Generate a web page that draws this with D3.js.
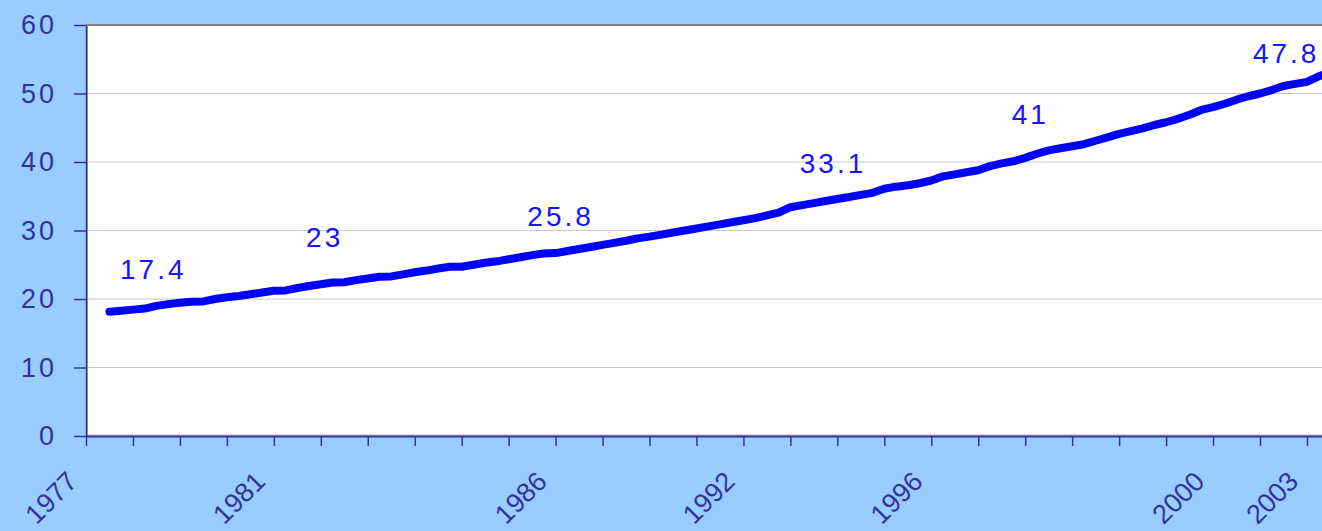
<!DOCTYPE html>
<html>
<head>
<meta charset="utf-8">
<script src="https://cdn.jsdelivr.net/npm/d3@7"></script>
<style>
  body { margin: 0; background: #99ccff; }
  svg { display: block; font-family: "Liberation Sans", Arial, sans-serif; }
</style>
</head>
<body>
<script>
const width = 1322, height = 531
const catPx = 11.74
const nCat = 108
const margin = {top: 25, left: 86, bottom: 95}

// series, one value per category (first point sits on category 2)
const firstCat = 2
const values = [
    18.15, 18.3, 18.45, 18.6, 19.0, 19.25, 19.45, 19.6, 19.65, 20.0,
    20.25, 20.45, 20.7, 20.95, 21.2, 21.25, 21.6, 21.9, 22.15, 22.4,
    22.45, 22.75, 23.0, 23.25, 23.3, 23.6, 23.9, 24.15, 24.45, 24.7,
    24.7, 25.0, 25.3, 25.5, 25.8, 26.1, 26.4, 26.65, 26.7, 27.0,
    27.3, 27.6, 27.9, 28.2, 28.5, 28.85, 29.1, 29.4, 29.7, 30.0,
    30.3, 30.6, 30.9, 31.2, 31.5, 31.8, 32.2, 32.6, 33.4, 33.7,
    34.0, 34.3, 34.6, 34.9, 35.2, 35.5, 36.1, 36.4, 36.6, 36.9,
    37.3, 37.9, 38.2, 38.5, 38.8, 39.4, 39.8, 40.1, 40.6, 41.2,
    41.7, 42.0, 42.3, 42.6, 43.1, 43.6, 44.1, 44.5, 44.9, 45.4,
    45.8, 46.3, 46.9, 47.6, 48.0, 48.5, 49.1, 49.6, 50.0, 50.5,
    51.1, 51.4, 51.7, 52.5, 53.1
]

const yTicks = [0, 10, 20, 30, 40, 50, 60]
const xTickStep = 4
const yearLabels = ["1977", "1981", "1986", "1992", "1996", "2000", "2003"]
const yearCats = [0, 16, 40, 56, 72, 96, 104]

const annoText = ["17.4", "23", "25.8", "33.1", "41", "47.8"]
const annoCat = [5.6, 20.2, 40.3, 63.5, 80.3, 102.1]
const annoVal = [22.9, 27.6, 30.7, 38.4, 45.5, 54.4]

const svg = d3.select("body").append("svg")
    .attr("width", width)
    .attr("height", height)

const x = d3.scaleLinear().domain([0, nCat]).range([margin.left, margin.left + nCat * catPx])
const y = d3.scaleLinear().domain([0, 60]).range([height - margin.bottom, margin.top])

const plotW = x(nCat) - x(0)
const plotH = y(0) - y(60)

// plot area
svg.append("rect")
    .attr("x", x(0)).attr("y", y(60))
    .attr("width", plotW).attr("height", plotH)
    .attr("fill", "#fff")

// gridlines
svg.append("g")
    .selectAll("line").data(yTicks.slice(1, -1)).enter()
    .append("line")
    .attr("x1", x(0)).attr("x2", x(nCat))
    .attr("y1", d => y(d)).attr("y2", d => y(d))
    .attr("stroke", "#c8c8c8").attr("stroke-width", 1)

// plot border
svg.append("line")
    .attr("x1", x(0)).attr("x2", x(nCat))
    .attr("y1", y(60)).attr("y2", y(60))
    .attr("stroke", "#808080").attr("stroke-width", 2)
svg.append("line")
    .attr("x1", x(0)).attr("x2", x(nCat))
    .attr("y1", y(0) - 1).attr("y2", y(0) - 1)
    .attr("stroke", "#a0a0a0").attr("stroke-width", 1)
svg.append("line")
    .attr("x1", x(0) + 1.5).attr("x2", x(0) + 1.5)
    .attr("y1", y(60)).attr("y2", y(0))
    .attr("stroke", "#a0a0a0").attr("stroke-width", 1)

// y axis
const yAxis = svg.append("g")
    .attr("transform", `translate(${x(0)},0)`)
    .call(d3.axisLeft(y).tickValues(yTicks).tickSize(12).tickSizeOuter(0).tickPadding(20))
yAxis.select(".domain").attr("stroke", "#333399").attr("stroke-width", 1.5)
yAxis.selectAll(".tick line").attr("stroke", "#333399").attr("stroke-width", 1.5)
yAxis.selectAll(".tick text")
    .attr("fill", "#333399")
    .attr("font-size", 27)
    .attr("letter-spacing", 3)
    .attr("dx", 3)
    .attr("font-family", "Liberation Sans, Arial, sans-serif")

// x axis
const xAxis = svg.append("g")
    .attr("transform", `translate(0,${y(0)})`)
    .call(d3.axisBottom(x).tickValues(d3.range(0, nCat + 1, xTickStep)).tickSize(10).tickSizeOuter(0).tickFormat(""))
xAxis.select(".domain").attr("stroke", "#333399").attr("stroke-width", 2)
xAxis.selectAll(".tick line").attr("stroke", "#333399").attr("stroke-width", 1.5)

svg.append("g")
    .selectAll("text").data(yearLabels).enter()
    .append("text")
    .attr("transform", (d, i) => `translate(${x(yearCats[i]) - 7},${y(0) + 47}) rotate(-45)`)
    .attr("text-anchor", "end")
    .attr("fill", "#333399")
    .attr("font-size", 27)
    .text(d => d)

// series line
const line = d3.line()
    .x((d, i) => x(firstCat + i))
    .y(d => y(d))

svg.append("path")
    .datum(values)
    .attr("d", line)
    .attr("fill", "none")
    .attr("stroke", "#0000ff")
    .attr("stroke-width", 8)
    .attr("stroke-linecap", "round")
    .attr("stroke-linejoin", "round")

// value labels
svg.append("g")
    .selectAll("text").data(annoText).enter()
    .append("text")
    .attr("x", (d, i) => x(annoCat[i]) + 1.5)
    .attr("y", (d, i) => y(annoVal[i]))
    .attr("text-anchor", "middle")
    .attr("fill", "#1414ff")
    .attr("font-size", 28)
    .attr("letter-spacing", 3)
    .text(d => d)
</script>
</body>
</html>
